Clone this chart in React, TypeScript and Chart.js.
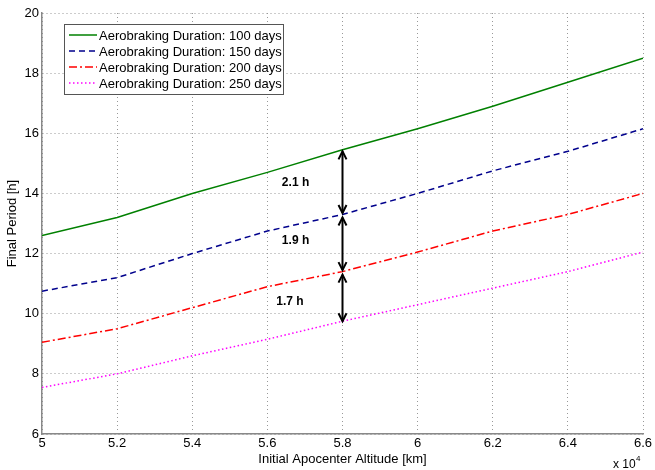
import React, { useEffect, useRef } from "react";
import { Chart, registerables } from "chart.js";

Chart.register(...registerables);

const xValues = [5.0, 5.2, 5.4, 5.6, 5.8, 6.0, 6.2, 6.4, 6.6];
const period100 = [12.6, 13.2, 14.0, 14.7, 15.45, 16.15, 16.9, 17.7, 18.5];
const period150 = [10.75, 11.2, 12.0, 12.75, 13.3, 14.0, 14.75, 15.4, 16.15];
const period200 = [9.05, 9.5, 10.2, 10.9, 11.4, 12.05, 12.75, 13.3, 14.0];
const period250 = [7.55, 8.0, 8.6, 9.15, 9.75, 10.3, 10.85, 11.4, 12.05];
const seriesLabels = [
  "Aerobraking Duration: 100 days",
  "Aerobraking Duration: 150 days",
  "Aerobraking Duration: 200 days",
  "Aerobraking Duration: 250 days",
];
const arrowX = 5.8;
const arrowFrom = [15.4, 13.2, 11.3];
const arrowTo = [13.35, 11.45, 9.75];
const arrowLabels = ["2.1 h", "1.9 h", "1.7 h"];
const arrowLabelX = [5.675, 5.675, 5.66];
const arrowLabelY = [14.37, 12.43, 10.4];

const FONT = "'Liberation Sans', Arial, sans-serif";

function drawArrowHead(ctx: CanvasRenderingContext2D, x: number, y: number, dir: number) {
  ctx.beginPath();
  ctx.moveTo(x - 4, y - dir * 8);
  ctx.lineTo(x, y);
  ctx.lineTo(x + 4, y - dir * 8);
  ctx.stroke();
}

const overlayPlugin = {
  id: "overlay",
  afterDatasetsDraw(chart: any) {
    const ctx = chart.ctx as CanvasRenderingContext2D;
    const xs = chart.scales.x;
    const ys = chart.scales.y;
    ctx.save();
    // arrows
    ctx.strokeStyle = "#000";
    ctx.lineWidth = 2;
    ctx.setLineDash([]);
    for (let i = 0; i < arrowFrom.length; i++) {
      const px = xs.getPixelForValue(arrowX);
      const y1 = ys.getPixelForValue(arrowFrom[i]);
      const y2 = ys.getPixelForValue(arrowTo[i]);
      ctx.beginPath();
      ctx.moveTo(px, y1);
      ctx.lineTo(px, y2);
      ctx.stroke();
      drawArrowHead(ctx, px, y1, -1);
      drawArrowHead(ctx, px, y2, 1);
      ctx.fillStyle = "#000";
      ctx.font = `bold 12px ${FONT}`;
      ctx.textAlign = "center";
      ctx.textBaseline = "middle";
      ctx.fillText(arrowLabels[i], xs.getPixelForValue(arrowLabelX[i]), ys.getPixelForValue(arrowLabelY[i]));
    }
    // legend
    const lx = 64, ly = 24, lw = 219, lh = 70;
    ctx.fillStyle = "#fff";
    ctx.fillRect(lx, ly, lw, lh);
    ctx.strokeStyle = "#555";
    ctx.lineWidth = 1;
    ctx.strokeRect(lx + 0.5, ly + 0.5, lw, lh);
    chart.data.datasets.forEach((ds: any, i: number) => {
      const yy = ly + 11 + i * 16;
      ctx.strokeStyle = ds.borderColor;
      ctx.lineWidth = 1.5;
      ctx.setLineDash(ds.borderDash || []);
      ctx.beginPath();
      ctx.moveTo(lx + 5, yy);
      ctx.lineTo(lx + 33, yy);
      ctx.stroke();
      ctx.setLineDash([]);
      ctx.fillStyle = "#000";
      ctx.font = `13px ${FONT}`;
      ctx.textAlign = "left";
      ctx.textBaseline = "middle";
      ctx.fillText(ds.label, lx + 35, yy + 1);
    });
    // x 10^4
    ctx.fillStyle = "#000";
    ctx.font = `12px ${FONT}`;
    ctx.textAlign = "left";
    ctx.textBaseline = "alphabetic";
    ctx.fillText("x 10", 613, 468);
    ctx.font = `8px ${FONT}`;
    ctx.fillText("4", 636, 461);
    ctx.restore();
  },
};

export default function App() {
  const ref = useRef<HTMLCanvasElement>(null);
  useEffect(() => {
    if (!ref.current) return;
    const mk = (vals: number[]) => xValues.map((x, i) => ({ x, y: vals[i] }));
    const chart = new Chart(ref.current, {
      type: "line",
      data: {
        datasets: [
          { label: seriesLabels[0], data: mk(period100), borderColor: "rgb(0,128,0)", borderWidth: 1.5, pointRadius: 0, fill: false },
          { label: seriesLabels[1], data: mk(period150), borderColor: "rgb(0,0,140)", borderWidth: 1.5, borderDash: [6, 4], pointRadius: 0, fill: false },
          { label: seriesLabels[2], data: mk(period200), borderColor: "rgb(255,0,0)", borderWidth: 1.5, borderDash: [8, 3, 2, 3], pointRadius: 0, fill: false },
          { label: seriesLabels[3], data: mk(period250), borderColor: "rgb(255,0,255)", borderWidth: 1.5, borderDash: [1.5, 2.5], pointRadius: 0, fill: false },
        ],
      },
      options: {
        animation: false,
        responsive: false,
        layout: { padding: { top: 13, right: 12, left: 5, bottom: 3 } },
        plugins: { legend: { display: false }, tooltip: { enabled: false } },
        scales: {
          x: {
            type: "linear",
            min: 5,
            max: 6.6,
            afterFit: (s: any) => { s.height = 33; },
            afterBuildTicks: (s: any) => { s.ticks = xValues.map((v) => ({ value: v })); },
            ticks: {
              color: "#000",
              font: { family: FONT, size: 13 },
              padding: 2,
              maxRotation: 0,
              callback: (v: any) => String(Math.round(Number(v) * 10) / 10),
            },
            grid: { color: "#999", lineWidth: 1, drawTicks: false },
            border: { color: "#888", width: 1.5, dash: [1, 3] },
            title: { display: true, text: "Initial Apocenter Altitude [km]", color: "#000", font: { family: FONT, size: 13 }, padding: { top: 0, bottom: 0 } },
          },
          y: {
            min: 6,
            max: 20,
            afterFit: (s: any) => { s.width = 37; },
            ticks: { stepSize: 2, color: "#000", font: { family: FONT, size: 13 }, padding: 3 },
            grid: { color: "#999", lineWidth: 1, drawTicks: false },
            border: { color: "#888", width: 1.5, dash: [1, 3] },
            title: { display: true, text: "Final Period [h]", color: "#000", font: { family: FONT, size: 13 }, padding: { top: 0, bottom: 0 } },
          },
        },
      },
      plugins: [overlayPlugin],
    } as any);
    return () => chart.destroy();
  }, []);
  return (
    <div style={{ position: "fixed", left: 0, top: 0, width: 655, height: 470, background: "#fff" }}>
      <canvas ref={ref} width={655} height={470} />
    </div>
  );
}
